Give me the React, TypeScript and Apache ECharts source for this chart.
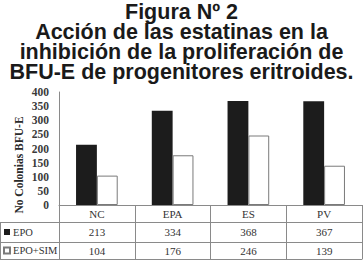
import React, { useEffect, useRef } from "react";
import * as echarts from "echarts";

const categories = ["NC", "EPA", "ES", "PV"];
const seriesNames = ["EPO", "EPO+SIM"];
const epoValues = [213, 334, 368, 367];
const epoSimValues = [104, 176, 246, 139];
const titleLines = [
  "Figura Nº 2",
  "Acción de las estatinas en la",
  "inhibición de la proliferación de",
  "BFU-E de progenitores eritroides.",
];
const yAxisTitle = "No Colonias BFU-E";

const SERIF = "Liberation Serif";
const LINE = "#8a8a8a";

export default function App() {
  const ref = useRef<HTMLDivElement>(null);
  useEffect(() => {
    if (!ref.current) return;
    const chart = echarts.init(ref.current, undefined, { renderer: "svg" });
    const tableLabel = {
      fontFamily: SERIF,
      fontSize: 11,
      color: "#333",
      lineHeight: 14,
    };
    const tableAxisBase = {
      type: "category" as const,
      position: "bottom" as const,
      axisTick: { show: false },
      splitLine: { show: false },
      axisLine: { show: true, lineStyle: { color: LINE, width: 1 } },
    };
    chart.setOption({
      animation: false,
      title: {
        text: titleLines.join("\n"),
        left: "center",
        top: 2,
        padding: 0,
        textStyle: {
          fontFamily: "Liberation Sans",
          fontWeight: "bold",
          fontSize: 21.5,
          lineHeight: 20,
          color: "#1a1a1a",
        },
      },
      legend: {
        orient: "vertical",
        left: 3,
        top: 225,
        padding: 0,
        itemWidth: 6,
        itemHeight: 6,
        itemGap: 4.5,
        icon: "rect",
        textStyle: { ...tableLabel, fontSize: 10.5, padding: [0, 0, 0, -2] },
        data: seriesNames,
      },
      grid: { left: 59, right: 1, top: 92, bottom: 56 },
      xAxis: [
        {
          type: "category",
          data: categories,
          position: "bottom",
          axisLine: { show: true, lineStyle: { color: LINE, width: 1 } },
          axisTick: {
            show: true,
            alignWithLabel: false,
            length: 54,
            lineStyle: { color: LINE, width: 1 },
          },
          axisLabel: { ...tableLabel, margin: 2 },
          splitLine: { show: false },
        },
        {
          ...tableAxisBase,
          offset: 17,
          data: epoValues.map(String),
          axisLabel: { ...tableLabel, margin: 3 },
        },
        {
          ...tableAxisBase,
          offset: 37,
          data: epoSimValues.map(String),
          axisLabel: { ...tableLabel, margin: 1.5 },
        },
        {
          ...tableAxisBase,
          offset: 54,
          data: categories,
          axisLabel: { show: false },
        },
      ],
      yAxis: {
        type: "value",
        min: 0,
        max: 400,
        interval: 50,
        axisLine: { show: true, lineStyle: { color: LINE, width: 1 } },
        axisTick: { show: false },
        splitLine: { show: false },
        axisLabel: {
          fontFamily: SERIF,
          fontWeight: "bold",
          fontSize: 11.5,
          color: "#3a3a3a",
          margin: 10,
        },
      },
      series: [
        {
          name: seriesNames[0],
          type: "bar",
          data: epoValues,
          barGap: "0%",
          barCategoryGap: "45%",
          itemStyle: { color: "#1c1c1c" },
        },
        {
          name: seriesNames[1],
          type: "bar",
          data: epoSimValues,
          barGap: "0%",
          barCategoryGap: "45%",
          itemStyle: { color: "#ffffff", borderColor: "#7a7a7a", borderWidth: 1 },
        },
      ],
      graphic: [
        {
          type: "text",
          x: 19,
          y: 165,
          rotation: Math.PI / 2,
          style: {
            text: yAxisTitle,
            fontFamily: SERIF,
            fontWeight: "bold",
            fontSize: 11.5,
            fill: "#2a2a2a",
            align: "center",
            verticalAlign: "middle",
          },
        },
        { type: "line", shape: { x1: 0.5, y1: 222, x2: 0.5, y2: 259.5 }, style: { stroke: LINE, lineWidth: 1 } },
        { type: "line", shape: { x1: 0, y1: 222.5, x2: 59, y2: 222.5 }, style: { stroke: LINE, lineWidth: 1 } },
        { type: "line", shape: { x1: 0, y1: 242.5, x2: 59, y2: 242.5 }, style: { stroke: LINE, lineWidth: 1 } },
        { type: "line", shape: { x1: 0, y1: 259.5, x2: 59, y2: 259.5 }, style: { stroke: LINE, lineWidth: 1 } },
      ],
    });
    return () => chart.dispose();
  }, []);
  return (
    <div
      ref={ref}
      style={{ position: "fixed", left: 0, top: 0, width: 363, height: 261, background: "#fff" }}
    />
  );
}
